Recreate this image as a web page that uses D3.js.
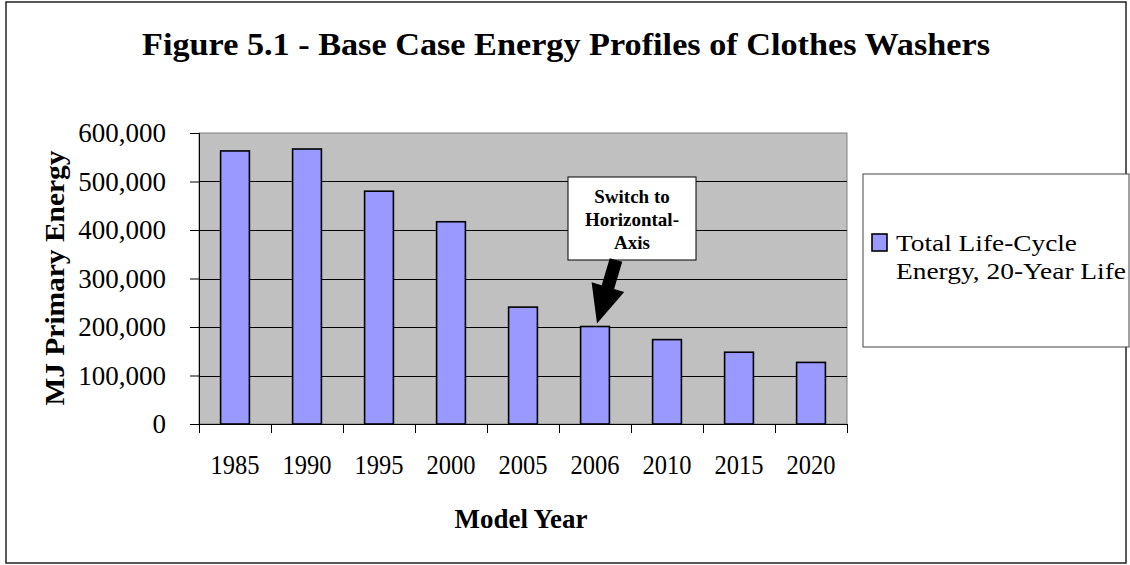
<!DOCTYPE html>
<html>
<head>
<meta charset="utf-8">
<script src="https://cdnjs.cloudflare.com/ajax/libs/d3/7.8.5/d3.min.js"></script>
<style>
  body { margin: 0; background: #fff; }
  svg, svg text { font-family: "Liberation Serif", "Times New Roman", Times, serif !important; fill: #000; }
</style>
</head>
<body>
<div id="graphic"></div>
<script>
// data
var categories = ["1985", "1990", "1995", "2000", "2005", "2006", "2010", "2015", "2020"];
var values = [563000, 567000, 480000, 417000, 241000, 201000, 174000, 148000, 127000];
var yTicks = [0, 100000, 200000, 300000, 400000, 500000, 600000];
var seriesName = ["Total Life-Cycle", "Energy, 20-Year Life"];
var titleText = "Figure 5.1 - Base Case Energy Profiles of Clothes Washers";
var noteLines = ["Switch to", "Horizontal-", "Axis"];
var noteCategory = "2006";

var data = categories.map(function (c, i) { return {year: c, value: values[i]}; });

var W = 1130, H = 565;
var FONT = "'Liberation Serif', 'Times New Roman', serif";
// plot area
var margin = {top: 133, left: 199},
    width = 648,
    height = 291;

var svg = d3.select("#graphic").append("svg")
    .attr("width", W)
    .attr("height", H)
    .style("font-family", FONT);

// outer chart border
svg.append("rect")
    .attr("x", 6).attr("y", 2)
    .attr("width", 1120).attr("height", 561)
    .attr("fill", "#fff")
    .attr("stroke", "#222")
    .attr("stroke-width", 1.5);

// title
svg.append("text")
    .attr("x", 566).attr("y", 55)
    .attr("text-anchor", "middle")
    .attr("textLength", 848)
    .attr("lengthAdjust", "spacingAndGlyphs")
    .style("font-size", "32px")
    .style("font-weight", "bold")
    .text(titleText);

var g = svg.append("g")
    .attr("transform", "translate(" + margin.left + "," + margin.top + ")");

var x = d3.scaleBand()
    .domain(categories)
    .range([0, width])
    .paddingInner(0.6)
    .paddingOuter(0.3);

var y = d3.scaleLinear()
    .domain([0, 600000])
    .range([height, 0]);

// plot background
g.append("rect")
    .attr("width", width).attr("height", height)
    .attr("fill", "#c0c0c0")
    .attr("stroke", "#808080")
    .attr("stroke-width", 1);

// gridlines
g.selectAll("line.grid")
    .data(yTicks.filter(function (t) { return t > 0 && t < 600000; }))
    .enter().append("line")
    .attr("class", "grid")
    .attr("x1", 0).attr("x2", width)
    .attr("y1", function (d) { return Math.round(y(d)) + 0.5; })
    .attr("y2", function (d) { return Math.round(y(d)) + 0.5; })
    .attr("stroke", "#000")
    .attr("stroke-width", 1);

// bars
g.selectAll(".bar")
    .data(data)
    .enter().append("rect")
    .attr("class", "bar")
    .attr("x", function (d) { return x(d.year); })
    .attr("y", function (d) { return y(d.value); })
    .attr("width", x.bandwidth())
    .attr("height", function (d) { return height - y(d.value); })
    .attr("fill", "#9999ff")
    .attr("stroke", "#000")
    .attr("stroke-width", 1.6);

// y axis
var yAxis = g.append("g")
    .call(d3.axisLeft(y).tickValues(yTicks).tickSize(9).tickPadding(24)
        .tickFormat(d3.format(",")));
yAxis.attr("font-family", null);
yAxis.select(".domain").attr("stroke", "#000");
yAxis.selectAll(".tick line").attr("stroke", "#000");
yAxis.selectAll("text").style("font-size", "27px").style("font-family", FONT);

// x axis: tick marks on band edges
var edges = d3.scaleLinear().domain([0, categories.length]).range([0, width]);
var xTickAxis = g.append("g")
    .attr("transform", "translate(0," + height + ")")
    .call(d3.axisBottom(edges).tickValues(d3.range(categories.length + 1))
        .tickSize(9).tickFormat(""));
xTickAxis.select(".domain").attr("stroke", "#000");
xTickAxis.selectAll(".tick line").attr("stroke", "#000");

// x axis labels at band centres
var xLabelAxis = g.append("g")
    .attr("transform", "translate(0," + height + ")")
    .call(d3.axisBottom(x).tickSize(0).tickPadding(31));
xLabelAxis.attr("font-family", null);
xLabelAxis.select(".domain").remove();
xLabelAxis.selectAll("text").style("font-size", "27px").style("font-family", FONT)
    .attr("textLength", 49).attr("lengthAdjust", "spacingAndGlyphs");

// axis titles
svg.append("text")
    .attr("x", 521).attr("y", 528)
    .attr("text-anchor", "middle")
    .attr("textLength", 133)
    .attr("lengthAdjust", "spacingAndGlyphs")
    .style("font-size", "27px")
    .style("font-weight", "bold")
    .text("Model Year");

svg.append("text")
    .attr("transform", "translate(64,278) rotate(-90)")
    .attr("text-anchor", "middle")
    .attr("textLength", 255)
    .attr("lengthAdjust", "spacingAndGlyphs")
    .style("font-size", "28px")
    .style("font-weight", "bold")
    .text("MJ  Primary  Energy");

// legend
var legend = svg.append("g");
legend.append("rect")
    .attr("x", 863).attr("y", 174)
    .attr("width", 266).attr("height", 173)
    .attr("fill", "#fff")
    .attr("stroke", "#444")
    .attr("stroke-width", 1);
legend.append("rect")
    .attr("x", 872).attr("y", 234)
    .attr("width", 15).attr("height", 17)
    .attr("fill", "#9999ff")
    .attr("stroke", "#000")
    .attr("stroke-width", 1.6);
legend.selectAll("text")
    .data(seriesName)
    .enter().append("text")
    .attr("x", 896)
    .attr("y", function (d, i) { return 251 + i * 28; })
    .attr("textLength", function (d, i) { return i === 0 ? 181 : 230; })
    .attr("lengthAdjust", "spacingAndGlyphs")
    .style("font-size", "24px")
    .text(function (d) { return d; });

// annotation box + arrow pointing at the 2006 bar
var note = svg.append("g");
note.append("rect")
    .attr("x", 568).attr("y", 177)
    .attr("width", 128).attr("height", 83)
    .attr("fill", "#fff")
    .attr("stroke", "#000")
    .attr("stroke-width", 1);
note.selectAll("text")
    .data(noteLines)
    .enter().append("text")
    .attr("x", 632)
    .attr("y", function (d, i) { return 203 + i * 23; })
    .attr("text-anchor", "middle")
    .style("font-size", "19px")
    .style("font-weight", "bold")
    .text(function (d) { return d; });

var noteValue = values[categories.indexOf(noteCategory)];
var tip = [margin.left + x(noteCategory) + x.bandwidth() / 2 + 2, margin.top + y(noteValue) - 3];
var start = [616, 260];
var dx = tip[0] - start[0], dy = tip[1] - start[1];
var len = Math.sqrt(dx * dx + dy * dy);
var ux = dx / len, uy = dy / len, px = -uy, py = ux;
var shaftW = 6.5, headW = 17, headL = 38;
var bx = tip[0] - ux * headL, by = tip[1] - uy * headL;
var pts = [
  [start[0] + px * shaftW, start[1] + py * shaftW],
  [bx + px * shaftW, by + py * shaftW],
  [bx + px * headW, by + py * headW],
  tip,
  [bx - px * headW, by - py * headW],
  [bx - px * shaftW, by - py * shaftW],
  [start[0] - px * shaftW, start[1] - py * shaftW]
];
note.append("path")
    .attr("d", d3.line()(pts) + "Z")
    .attr("fill", "#000");
</script>
</body>
</html>
